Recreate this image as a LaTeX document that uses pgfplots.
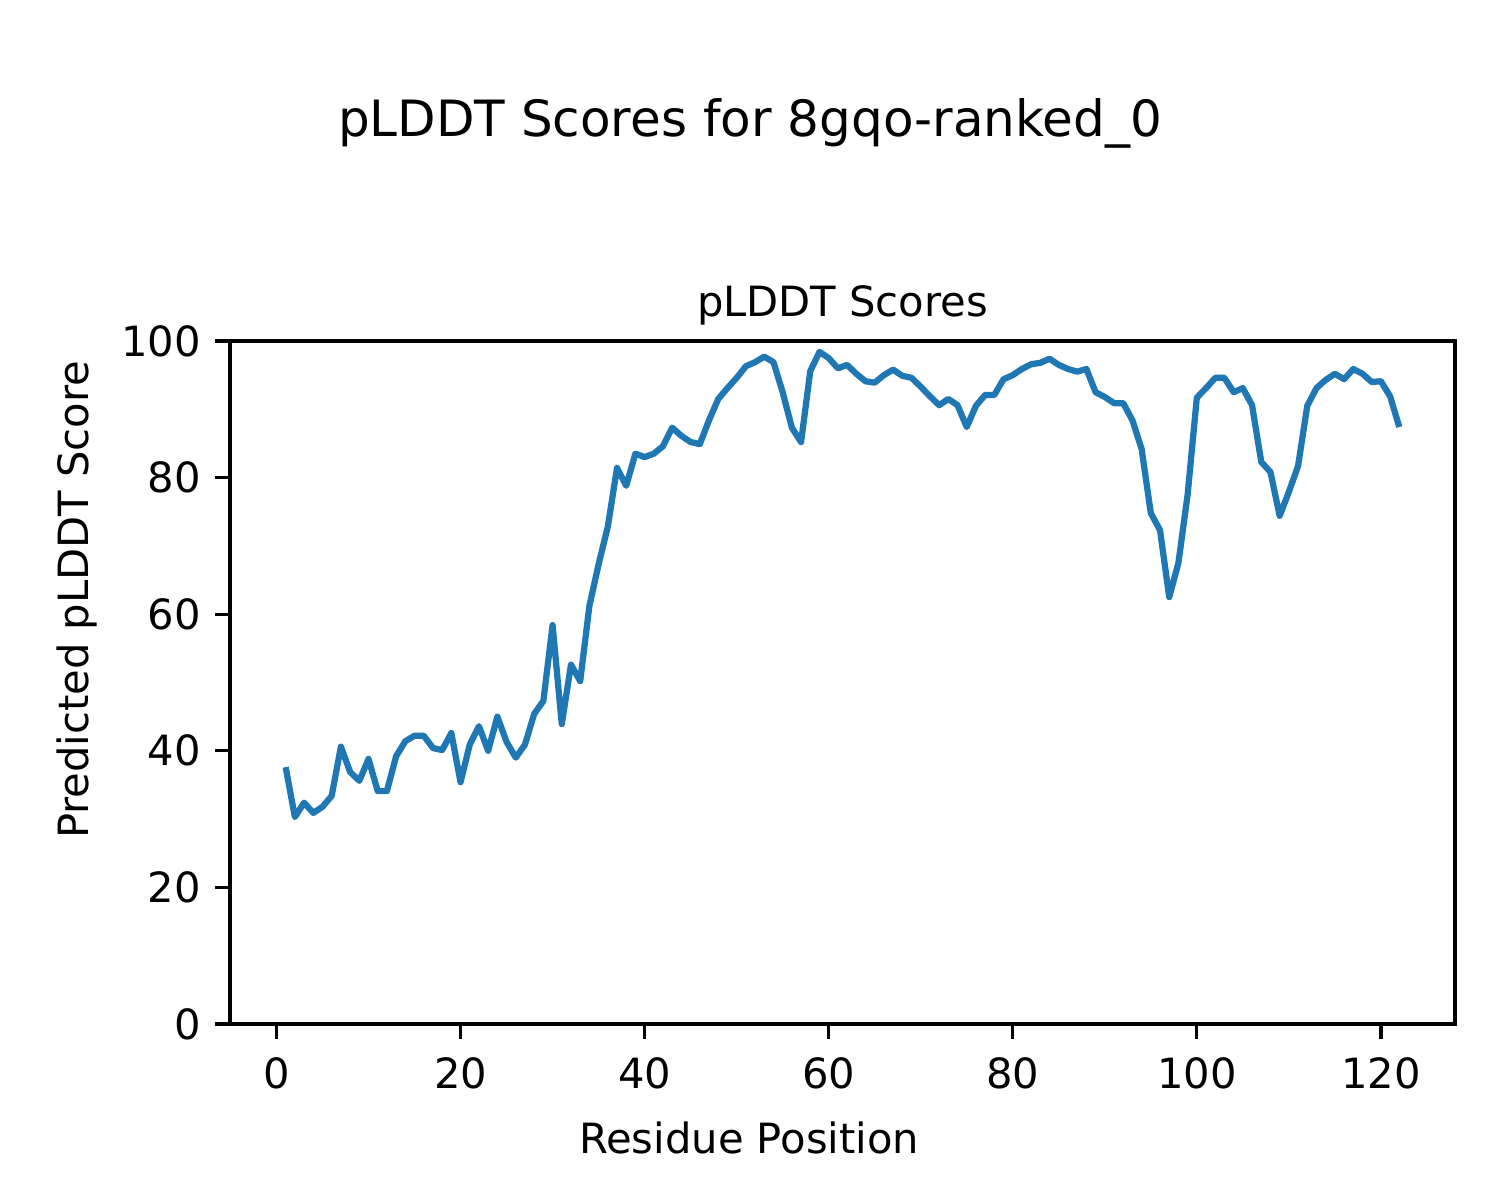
\documentclass[border=0pt]{standalone}
\usepackage{fontspec}
\setmainfont{DejaVu Sans}
\usepackage{pgfplots}
\pgfplotsset{compat=1.18}
\definecolor{mplblue}{HTML}{1F77B4}

\pgfplotstableread{
x y
1 37.6
2 30.3
3 32.4
4 30.9
5 31.8
6 33.4
7 40.6
8 36.9
9 35.6
10 38.8
11 34.1
12 34.1
13 39.2
14 41.4
15 42.2
16 42.2
17 40.4
18 40.1
19 42.6
20 35.4
21 40.9
22 43.6
23 40.0
24 45.0
25 41.3
26 39.0
27 40.9
28 45.4
29 47.3
30 58.4
31 43.9
32 52.6
33 50.2
34 61.2
35 67.3
36 72.8
37 81.4
38 78.8
39 83.5
40 83.0
41 83.5
42 84.6
43 87.3
44 86.1
45 85.2
46 84.9
47 88.4
48 91.5
49 93.1
50 94.6
51 96.3
52 96.9
53 97.7
54 96.9
55 92.5
56 87.3
57 85.2
58 95.6
59 98.4
60 97.5
61 96.0
62 96.5
63 95.2
64 94.1
65 93.9
66 95.0
67 95.8
68 94.9
69 94.6
70 93.3
71 91.9
72 90.6
73 91.5
74 90.6
75 87.4
76 90.5
77 92.1
78 92.1
79 94.4
80 95.0
81 95.9
82 96.6
83 96.8
84 97.4
85 96.5
86 95.9
87 95.5
88 95.9
89 92.5
90 91.8
91 90.9
92 90.9
93 88.4
94 84.2
95 74.8
96 72.3
97 62.5
98 67.5
99 77.5
100 91.7
101 93.1
102 94.6
103 94.6
104 92.5
105 93.1
106 90.6
107 82.3
108 80.8
109 74.4
110 77.9
111 81.7
112 90.5
113 93.1
114 94.3
115 95.2
116 94.4
117 95.9
118 95.2
119 94.0
120 94.1
121 91.9
122 87.4
}\plddt

\begin{document}
\begin{tikzpicture}
\path[use as bounding box] (-55.2pt,-42.24pt) rectangle (304.8pt,245.76pt);
\begin{axis}[
    at={(0,0)}, anchor=south west,
    scale only axis,
    width=294pt, height=163.92pt,
    xmin=-5.05, xmax=128.05,
    ymin=0, ymax=100,
    xtick={0,20,...,120},
    ytick={0,20,...,100},
    axis line style={line width=0.8pt},
    tick style={line width=0.8pt, black},
    tick align=outside,
    major tick length=3.5pt,
    xtick pos=bottom, ytick pos=left,
    tick label style={font=\fontsize{10}{12}\selectfont},
    xticklabel style={yshift=-1pt},
    /pgf/number format/assume math mode=true,
]
\addplot[mplblue, line width=1.5pt, line join=round] table[x=x, y=y] {\plddt};
\end{axis}
\node[anchor=base, font=\fontsize{12}{14}\selectfont] at (124.8pt,212.9pt) {pLDDT Scores for 8gqo-ranked\_0};
\node[anchor=base, font=\fontsize{10}{12}\selectfont] at (147pt,169.9pt) {pLDDT Scores};
\node[font=\fontsize{10}{12}\selectfont] at (124.6pt,-27.4pt) {Residue Position};
\node[rotate=90, font=\fontsize{10}{12}\selectfont] at (-36.7pt,101.8pt) {Predicted pLDDT Score};
\end{tikzpicture}
\end{document}
